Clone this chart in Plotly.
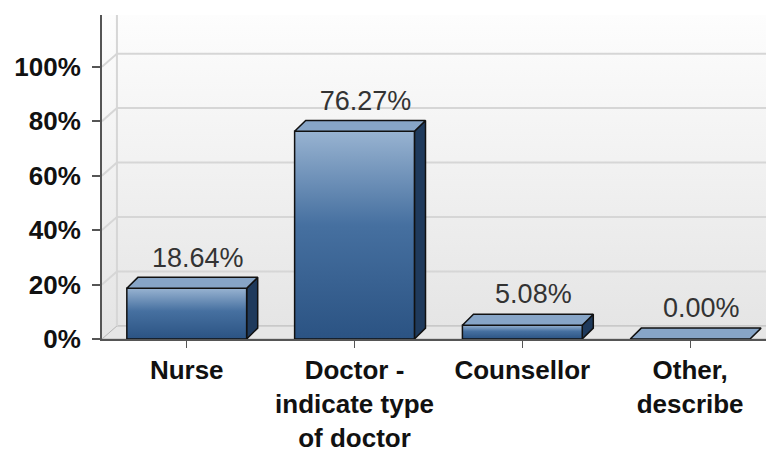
import plotly.graph_objects as go

# survey answers
categories = ["Nurse", "Doctor -<br>indicate type<br>of doctor", "Counsellor", "Other,<br>describe"]
percents = [18.64, 76.27, 5.08, 0.00]
y_ticks = [0, 20, 40, 60, 80, 100]
y_tick_labels = ["0%", "20%", "40%", "60%", "80%", "100%"]

"""
fake 3D look: front face, top face and side face of every bar
are drawn as filled polygons in data coordinates
"""
Y_MAX = 119
HALF_W = 0.357          # half bar width (category units)
BAR_DX, BAR_DY = 0.066, 4.0     # bar depth
FLOOR_DX, FLOOR_DY = 0.089, 4.8  # wall / floor depth
X_LO, X_HI = -0.505, 3.5

FRONT_SCALE = [[0, "#2b5383"], [0.55, "#4670a0"], [1, "#98b3d1"]]
TOP_COLOR = "#87a5c7"
SIDE_COLOR = "#1f3a5c"
EDGE = "#111111"

fig = go.Figure()

# back wall with soft vertical gradient
fig.add_trace(go.Scatter(
    x=[X_LO, X_HI, X_HI, X_LO, X_LO],
    y=[0, 0, Y_MAX, Y_MAX, 0],
    mode="lines", line=dict(width=0),
    fill="toself",
    fillgradient=dict(type="vertical", colorscale=[[0, "#e4e4e4"], [1, "#fdfdfd"]]),
    hoverinfo="skip", showlegend=False,
))

# floor
fig.add_trace(go.Scatter(
    x=[X_LO, X_HI, X_HI, X_LO + FLOOR_DX, X_LO],
    y=[0, 0, FLOOR_DY, FLOOR_DY, 0],
    mode="lines", line=dict(width=1, color="#b5b5b5"),
    fill="toself", fillcolor="#e6e6e6",
    hoverinfo="skip", showlegend=False,
))

# gridlines on the back wall plus the little diagonals on the side wall
gx, gy = [], []
for v in y_ticks[1:]:
    gx += [X_LO + FLOOR_DX, X_HI, None, X_LO, X_LO + FLOOR_DX, None]
    gy += [v + FLOOR_DY, v + FLOOR_DY, None, v, v + FLOOR_DY, None]
gx += [X_LO + FLOOR_DX, X_LO + FLOOR_DX]
gy += [FLOOR_DY, Y_MAX]
fig.add_trace(go.Scatter(
    x=gx, y=gy, mode="lines",
    line=dict(width=2, color="#d6d6d6"),
    hoverinfo="skip", showlegend=False,
))

for i, v in enumerate(percents):
    l, r = i - HALF_W, i + HALF_W
    if v > 0:
        # side face
        fig.add_trace(go.Scatter(
            x=[r, r + BAR_DX, r + BAR_DX, r, r],
            y=[0, BAR_DY, v + BAR_DY, v, 0],
            mode="lines", line=dict(width=1.5, color=EDGE),
            fill="toself", fillcolor=SIDE_COLOR,
            hoverinfo="skip", showlegend=False,
        ))
        # front face
        fig.add_trace(go.Scatter(
            x=[l, r, r, l, l],
            y=[0, 0, v, v, 0],
            mode="lines", line=dict(width=1.5, color=EDGE),
            fill="toself",
            fillgradient=dict(type="vertical", colorscale=FRONT_SCALE),
            hoverinfo="skip", showlegend=False,
        ))
    # top face
    fig.add_trace(go.Scatter(
        x=[l, r, r + BAR_DX, l + BAR_DX, l],
        y=[v, v, v + BAR_DY, v + BAR_DY, v],
        mode="lines", line=dict(width=1.5, color=EDGE),
        fill="toself", fillcolor=TOP_COLOR,
        hoverinfo="skip", showlegend=False,
    ))

# value labels
fig.add_trace(go.Scatter(
    x=[i + BAR_DX for i in range(len(percents))],
    y=[v + BAR_DY + 1.5 for v in percents],
    mode="text",
    text=["%.2f%%" % v for v in percents],
    textposition="top center",
    textfont=dict(family="Liberation Sans", size=27, color="#333333"),
    hoverinfo="skip", showlegend=False,
))

# the page body has an 8px margin, so the figure is sized to fill the rest
fig.update_layout(
    width=766, height=442,
    margin=dict(l=94, r=0, t=7, b=111),
    paper_bgcolor="white",
    plot_bgcolor="white",
)

fig.update_xaxes(
    range=[X_LO, X_HI],
    tickvals=list(range(len(categories))),
    ticktext=categories,
    tickfont=dict(family="Liberation Sans", size=26, color="#111111", weight="bold"),
    ticks="outside", ticklen=7, tickwidth=1, tickcolor="#555555",
    showline=True, linecolor="#555555", linewidth=2,
    showgrid=False, zeroline=False, fixedrange=True, automargin=False,
)

fig.update_yaxes(
    range=[0, Y_MAX],
    tickvals=y_ticks,
    ticktext=y_tick_labels,
    tickfont=dict(family="Liberation Sans", size=26, color="#111111", weight="bold"),
    ticks="outside", ticklen=8, tickwidth=2, tickcolor="#555555",
    ticklabelstandoff=6,
    showline=True, linecolor="#555555", linewidth=2,
    showgrid=False, zeroline=False, fixedrange=True, automargin=False,
)

fig.write_html("out.html")
